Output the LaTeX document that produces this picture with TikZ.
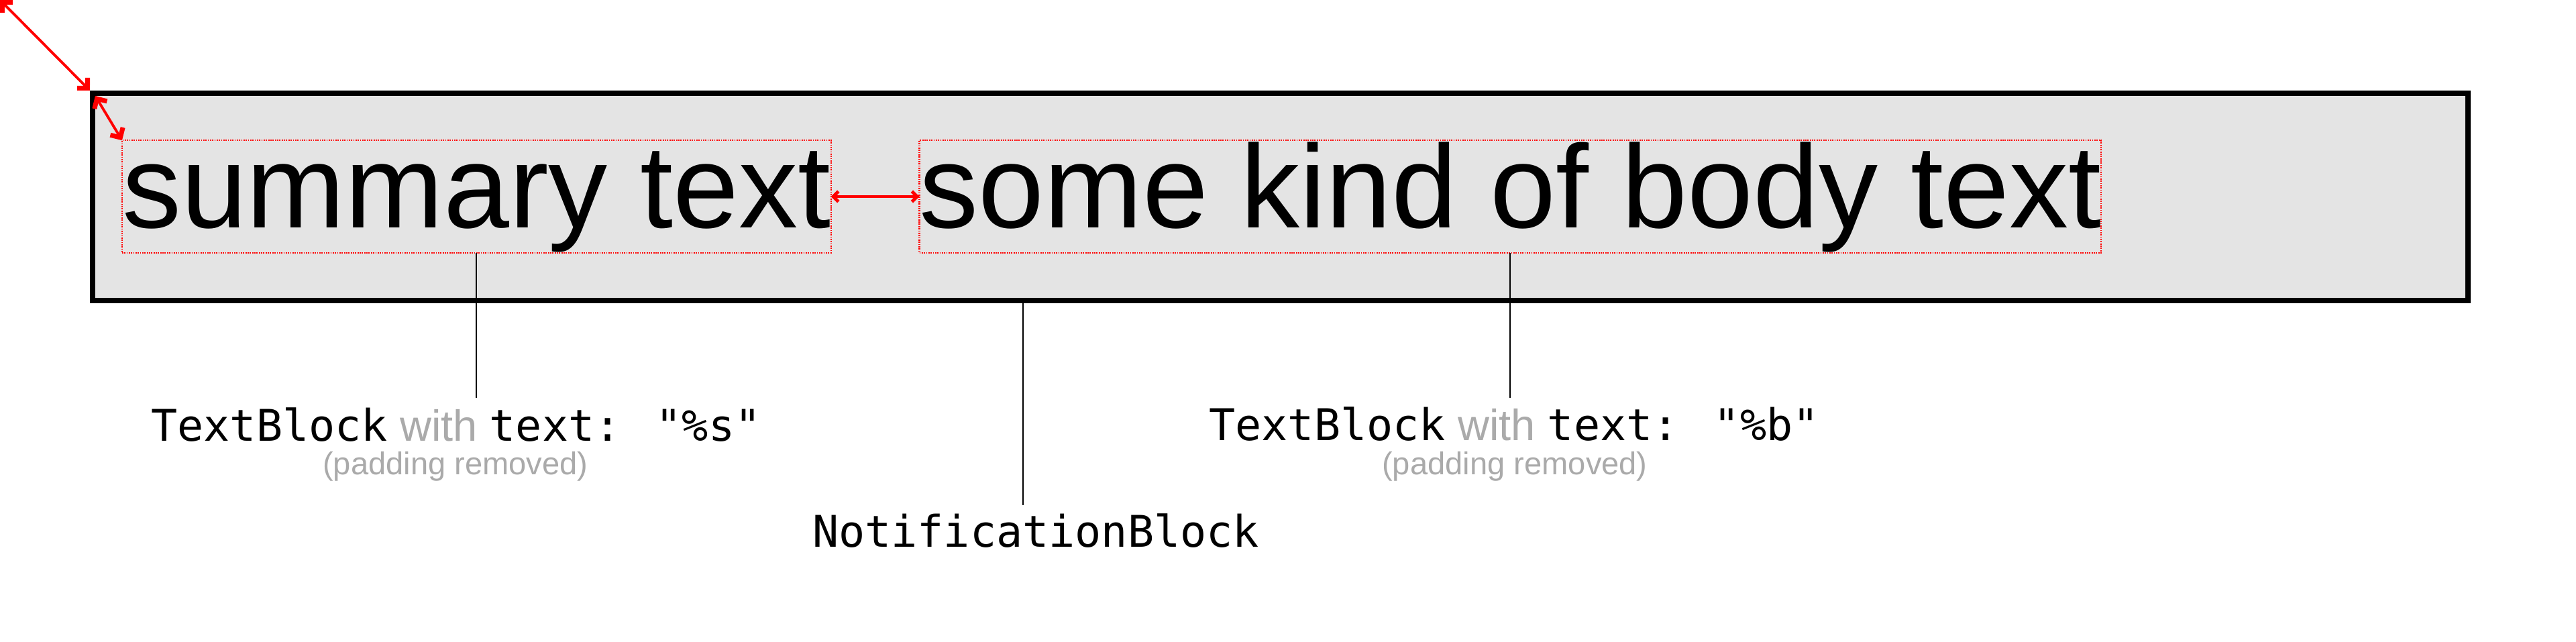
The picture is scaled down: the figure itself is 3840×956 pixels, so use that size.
\documentclass[tikz,border=0pt]{standalone}
\usepackage{fontspec}
\newfontfamily\arialf{Liberation Sans}
\newfontfamily\monof[Ligatures=TeXOff]{DejaVu Sans Mono}
\usetikzlibrary{arrows.meta,calc}
\definecolor{boxfill}{RGB}{228,228,228}
\definecolor{lgray}{RGB}{170,170,170}
\begin{document}
\begin{tikzpicture}[x=0.01cm,y=-0.01cm,
  bigbox/.style={draw=red, line width=0.6pt, dash pattern=on 0.5pt off 0.45pt,
    inner xsep=0pt, inner ysep=0pt, outer sep=0pt, text height=1.30cm, text depth=0.374cm,
    font=\arialf\fontsize{50.07pt}{60pt}\selectfont, anchor=base west},
  measure/.style={draw=red, line width=1.1pt,
    {Straight Barb[length=3.1pt,width=6.2pt,line width=2pt,sharp]}-{Straight Barb[length=3.1pt,width=6.2pt,line width=2pt,sharp]}},
  smallmeasure/.style={draw=red, line width=0.9pt,
    {Straight Barb[length=2.2pt,width=4.4pt,line width=1.4pt,sharp]}-{Straight Barb[length=2.2pt,width=4.4pt,line width=1.4pt,sharp]}},
  conn/.style={draw=black, line width=0.6pt},
  monolbl/.style={anchor=base, inner sep=0pt, font=\monof\fontsize{18.5pt}{22pt}\selectfont},
  padlbl/.style={anchor=base, inner sep=0pt, text=lgray, font=\arialf\fontsize{13.4pt}{16pt}\selectfont}
]
\useasboundingbox (0,0) rectangle (3840,956);
\fill[white] (0,0) rectangle (3840,956);

% outer notification block
\node[draw=black, line width=2.276pt, fill=boxfill, minimum width=35.39cm, minimum height=3.085cm,
  inner sep=0pt] (outer) at (1908.5,293.25) {};

% text blocks
\node[bigbox] (sum) at (182,339.3) {summary text};
\node[bigbox] (body) at (1370.5,339.3) {some kind of body text};

% measurement arrows
\coordinate (c0) at (0,0);
\coordinate (inner) at ($(outer.north west)+(8,8)$);
\draw[measure] (c0) -- (outer.north west);
\draw[measure] (inner) -- (sum.north west);
\draw[smallmeasure] (sum.east) -- (body.west);

% labels
\node[monolbl] (l1) at (680,657.5) {TextBlock{\arialf\ \textcolor{lgray}{with}\ }text: "\%s"};
\node[padlbl] (p1) at (679,707) {(padding removed)};
\node[monolbl] (l2) at (2257,656.5) {TextBlock{\arialf\ \textcolor{lgray}{with}\ }text: "\%b"};
\node[padlbl] (p2) at (2258,707) {(padding removed)};
\node[monolbl] (nb) at (1544,815.7) {NotificationBlock};

% connectors
\coordinate (e1) at ($(sum.south)+(0,216)$);
\coordinate (e2) at ($(body.south)+(0,216)$);
\coordinate (e3) at (1525,753);
\draw[conn] (sum.south) -- (e1);
\draw[conn] (body.south) -- (e2);
\draw[conn] (outer.south -| e3) -- (e3);
\end{tikzpicture}
\end{document}
